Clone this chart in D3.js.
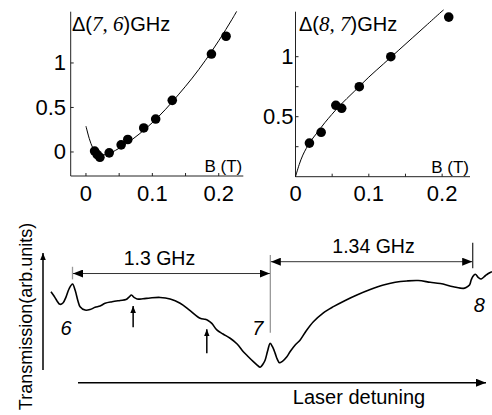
<!DOCTYPE html>
<html><head><meta charset="utf-8">
<script src="https://cdn.jsdelivr.net/npm/d3@7"></script>
<style>body{margin:0;background:#fff}svg{display:block}</style>
</head><body><svg id="c" width="492" height="415"></svg>
<script>
// ---- Panel A: Delta(7,6) vs B ----
const ptsB76 = [0.013, 0.017, 0.021, 0.035, 0.053, 0.063, 0.087, 0.105, 0.130, 0.189, 0.211];
const ptsD76 = [0.01, -0.03, -0.06, -0.01, 0.08, 0.14, 0.27, 0.37, 0.58, 1.10, 1.30];
const fitB76 = [0, 0.005, 0.01, 0.015, 0.02, 0.03, 0.04, 0.06, 0.08, 0.10, 0.12, 0.14, 0.16, 0.18, 0.20, 0.22, 0.227];
const fitD76 = [0.29, 0.15, 0.05, -0.01, -0.03, -0.03, 0.0, 0.09, 0.20, 0.33, 0.48, 0.65, 0.83, 1.03, 1.25, 1.49, 1.58];
const xTicks76 = [0, 0.05, 0.1, 0.15, 0.2];
const xLabels76 = [0, 0.1, 0.2];
const yTicks76 = [0, 0.5, 1];

// ---- Panel B: Delta(8,7) vs B ----
const ptsB87 = [0.019, 0.035, 0.055, 0.063, 0.087, 0.130, 0.209];
const ptsD87 = [0.28, 0.37, 0.595, 0.57, 0.75, 1.0, 1.33];
const fitB87 = [0, 0.005, 0.01, 0.02, 0.03, 0.04, 0.06, 0.08, 0.10, 0.12, 0.14, 0.16, 0.18, 0.20, 0.202];
const fitD87 = [0, 0.10, 0.18, 0.29, 0.37, 0.45, 0.59, 0.71, 0.83, 0.94, 1.05, 1.16, 1.27, 1.38, 1.39];
const xTicks87 = [0, 0.05, 0.1, 0.15, 0.2];
const xLabels87 = [0, 0.1, 0.2];
const yTicks87 = [0.25, 0.5, 0.75, 1];
const yLabels87 = [0.5, 1];

// ---- Panel C: transmission vs laser detuning (GHz from line 6) ----
const detuning = [-0.142,-0.122,-0.102,-0.083,-0.063,-0.043,-0.023,0.0,0.017,0.036,0.050,0.083,0.116,0.149,0.182,0.215,0.261,0.314,0.353,0.373,0.389,0.406,0.426,0.465,0.512,0.578,0.644,0.710,0.776,0.842,0.875,0.894,0.919,0.952,0.993,1.040,1.086,1.127,1.158,1.193,1.218,1.238,1.257,1.271,1.287,1.304,1.320,1.337,1.350,1.365,1.383,1.414,1.436,1.469,1.502,1.541,1.589,1.653,1.721,1.799,1.876,1.964,2.051,2.129,2.206,2.280,2.360,2.426,2.512,2.579,2.597,2.619,2.630,2.641,2.657,2.678,2.696,2.723,2.743,2.767];
const transmission = [0.679,0.646,0.608,0.582,0.592,0.638,0.700,0.738,0.692,0.608,0.564,0.538,0.542,0.559,0.569,0.590,0.602,0.612,0.619,0.638,0.654,0.635,0.623,0.625,0.631,0.635,0.623,0.590,0.533,0.475,0.467,0.458,0.436,0.385,0.354,0.321,0.277,0.218,0.181,0.141,0.115,0.098,0.123,0.154,0.223,0.282,0.254,0.205,0.162,0.133,0.142,0.179,0.219,0.269,0.308,0.377,0.448,0.515,0.564,0.612,0.654,0.696,0.731,0.752,0.762,0.765,0.752,0.742,0.718,0.705,0.712,0.731,0.769,0.796,0.813,0.787,0.777,0.802,0.819,0.833];
const peakPos = [0, 1.305, 2.64];
const peakNames = ["6", "7", "8"];
const peakLineLo = [0.774, 0.364, 0.859];
const peakLineHi = [0.871, 0.962, 1.056];
const spanFrom = [0, 1.305];
const spanTo = [1.305, 2.64];
const spanLevel = [0.819, 0.910];
const spanText = ["1.3 GHz", "1.34 GHz"];
const markX = [0.40, 0.886];
const markTop = [0.569, 0.390];
const markBottom = [0.405, 0.205];

const svg = d3.select("#c");
const SANS = "'Liberation Sans', Arial, sans-serif";
const NARROW = "'Liberation Sans Narrow', 'Arial Narrow', 'Liberation Sans', sans-serif";
const SERIF = "'Liberation Serif', 'Times New Roman', serif";

const defs = svg.append("defs");
function mk(id, w, h) {
  defs.append("marker").attr("id", id).attr("viewBox", "0 0 10 8")
    .attr("refX", 10).attr("refY", 4).attr("markerWidth", w).attr("markerHeight", h)
    .attr("markerUnits", "userSpaceOnUse").attr("orient", "auto-start-reverse")
    .append("path").attr("d", "M0,0L10,4L0,8Z").attr("fill", "#000");
}
mk("ah", 10, 8);
mk("ahs", 7, 8);

// ---------- scatter panels ----------
function panel(o) {
  const g = svg.append("g");
  const x = d3.scaleLinear().domain(o.xd).range(o.xr);
  const y = d3.scaleLinear().domain(o.yd).range(o.yr);
  const x0 = o.xr[0], yb = o.yr[0];
  g.append("line").attr("x1", x0).attr("x2", x0).attr("y1", o.yr[1]).attr("y2", yb).attr("stroke", "#222").attr("stroke-width", 1);
  g.append("line").attr("x1", x0).attr("x2", o.xr[1]).attr("y1", yb).attr("y2", yb).attr("stroke", "#222").attr("stroke-width", 1);
  g.selectAll(".xt").data(o.xTicks).join("line").attr("x1", d => x(d)).attr("x2", d => x(d))
    .attr("y1", yb).attr("y2", yb - 3).attr("stroke", "#222");
  g.selectAll(".yt").data(o.yTicks).join("line").attr("x1", x0).attr("x2", x0 + 3)
    .attr("y1", d => y(d)).attr("y2", d => y(d)).attr("stroke", "#222");
  g.selectAll(".xl").data(o.xLabels).join("text").attr("x", d => x(d)).attr("y", 201)
    .attr("text-anchor", "middle").attr("font-family", NARROW).attr("font-size", 22)
    .text(d => d3.format("")(d));
  g.selectAll(".yl").data(o.yLabels).join("text").attr("x", o.ylx).attr("y", d => y(d) + 7.5)
    .attr("text-anchor", "end").attr("font-family", o.yFont).attr("font-size", o.yFs)
    .text(d => d3.format("")(d));
  const fit = d3.range(o.fitB.length).map(i => [o.fitB[i], o.fitD[i]]);
  g.append("path").datum(fit).attr("fill", "none").attr("stroke", "#000").attr("stroke-width", 1)
    .attr("d", d3.line().x(d => x(d[0])).y(d => y(d[1])).curve(d3.curveCatmullRom));
  g.selectAll(".pt").data(d3.range(o.ptsB.length)).join("circle")
    .attr("cx", i => x(o.ptsB[i])).attr("cy", i => y(o.ptsD[i])).attr("r", 4.8).attr("fill", "#000");
  // title
  const t = g.append("text").attr("x", o.tx).attr("y", 31).attr("font-size", 20).attr("font-family", SANS);
  t.append("tspan").text("\u0394(");
  t.append("tspan").attr("font-family", SERIF).attr("font-style", "italic").attr("font-size", 21).text(o.pair);
  t.append("tspan").text(")GHz");
  g.append("text").attr("x", o.xr[1] - 1).attr("y", yb - 4).attr("text-anchor", "end")
    .attr("font-family", NARROW).attr("font-size", 17).text("B (T)");
}
panel({xd: [-0.023, 0.237], xr: [70.7, 243.3], yd: [-0.27, 1.576], yr: [176, 11.7],
  xTicks: xTicks76, xLabels: xLabels76, yTicks: yTicks76, yLabels: yTicks76,
  ylx: 66, yFont: SANS, yFs: 22, fitB: fitB76, fitD: fitD76, ptsB: ptsB76, ptsD: ptsD76,
  tx: 72, pair: "7, 6"});
panel({xd: [0, 0.238], xr: [295.5, 470], yd: [0, 1.375], yr: [176.7, 11.7],
  xTicks: xTicks87, xLabels: xLabels87, yTicks: yTicks87, yLabels: yLabels87,
  ylx: 293.5, yFont: NARROW, yFs: 22, fitB: fitB87, fitD: fitD87, ptsB: ptsB87, ptsD: ptsD87,
  tx: 299, pair: "8, 7"});

// ---------- transmission panel ----------
const gx = d3.scaleLinear().domain([0, 2.64]).range([72.5, 472.7]);
const gy = d3.scaleLinear().domain([0, 1]).range([380, 250]);
const gC = svg.append("g");
// axes arrows
gC.append("line").attr("x1", 43).attr("x2", 43).attr("y1", 370).attr("y2", 253)
  .attr("stroke", "#000").attr("stroke-width", 1.5).attr("marker-end", "url(#ahs)");
gC.append("line").attr("x1", 78).attr("x2", 486).attr("y1", 382.7).attr("y2", 382.7)
  .attr("stroke", "#000").attr("stroke-width", 1.5).attr("marker-end", "url(#ah)");
gC.append("text").attr("transform", "translate(32,316.5) rotate(-90)").attr("text-anchor", "middle")
  .attr("font-family", SANS).attr("font-size", 18).text("Transmission(arb.units)");
gC.append("text").attr("x", 359).attr("y", 404).attr("text-anchor", "middle")
  .attr("font-family", SANS).attr("font-size", 20).text("Laser detuning");
// peak marker lines
gC.selectAll(".pl").data(peakPos).join("line")
  .attr("x1", d => gx(d)).attr("x2", d => gx(d))
  .attr("y1", (d, i) => gy(peakLineLo[i])).attr("y2", (d, i) => gy(peakLineHi[i]))
  .attr("stroke", (d, i) => i === 2 ? "#333" : "#999").attr("stroke-width", 1.3);
// span arrows
gC.selectAll(".sp").data(spanFrom).join("line")
  .attr("x1", d => gx(d) + 0.5).attr("x2", (d, i) => gx(spanTo[i]) - 0.5)
  .attr("y1", (d, i) => gy(spanLevel[i])).attr("y2", (d, i) => gy(spanLevel[i]))
  .attr("stroke", "#333").attr("stroke-width", 1)
  .attr("marker-start", "url(#ah)").attr("marker-end", "url(#ah)");
gC.selectAll(".st").data(spanText).join("text")
  .attr("x", (d, i) => (gx(spanFrom[i]) + gx(spanTo[i])) / 2 + (i === 0 ? -12 : 2))
  .attr("y", (d, i) => gy(spanLevel[i]) - 9)
  .attr("text-anchor", "middle").attr("font-family", SANS).attr("font-size", 19.5).text(d => d);
// trace
const tr = d3.range(detuning.length).map(i => [detuning[i], transmission[i]]);
gC.append("path").datum(tr).attr("fill", "none").attr("stroke", "#000").attr("stroke-width", 1.6)
  .attr("stroke-linejoin", "round")
  .attr("d", d3.line().x(d => gx(d[0])).y(d => gy(d[1])).curve(d3.curveCatmullRom));
// small arrows
gC.selectAll(".ma").data(markX).join("line")
  .attr("x1", d => gx(d)).attr("x2", d => gx(d))
  .attr("y1", (d, i) => gy(markBottom[i])).attr("y2", (d, i) => gy(markTop[i]))
  .attr("stroke", "#000").attr("stroke-width", 1.5).attr("marker-end", "url(#ahs)");
// peak labels
const labDx = [-12, -18, 1], labY = [335, 335, 311.7];
gC.selectAll(".pn").data(peakNames).join("text")
  .attr("x", (d, i) => gx(peakPos[i]) + labDx[i]).attr("y", (d, i) => labY[i])
  .attr("font-family", SANS).attr("font-style", "italic").attr("font-size", 20).text(d => d);
</script></body></html>
